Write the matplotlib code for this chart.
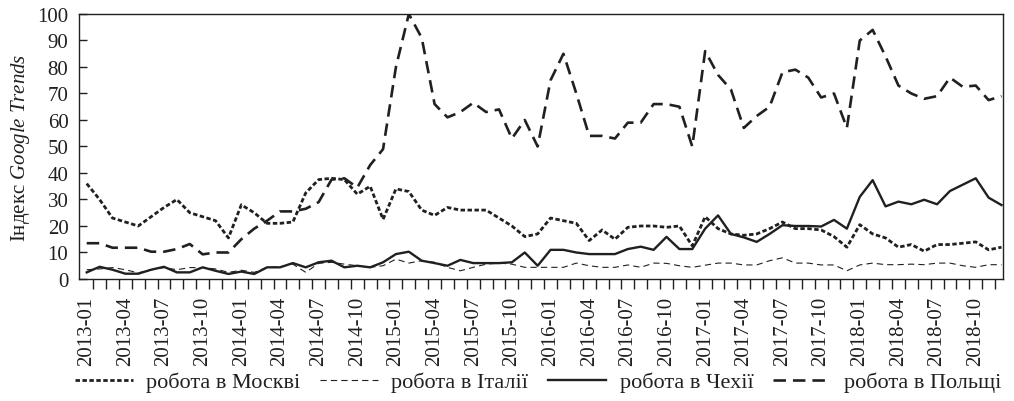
import matplotlib
matplotlib.use("Agg")
import matplotlib.pyplot as plt

# monthly categories 2013-01 .. 2018-12
years = [2013, 2014, 2015, 2016, 2017, 2018]
months = ["%d-%02d" % (y, m) for y in years for m in range(1, 13)]

moscow = [36, 30, 23, 21.5, 20, 23.5, 27, 30, 25, 23.5, 22, 15.5,
          28, 25, 21, 21, 21.5, 32.5, 37.5, 38, 37.5, 32, 35, 22.5,
          34, 33, 26, 24, 27, 26, 26, 26, 23, 20, 16, 17,
          23, 22, 21, 14.5, 18.5, 15, 19.5, 20, 20, 19.5, 20, 12.5,
          23.5, 19, 17, 16.5, 17, 19, 21.5, 19, 19, 18.5, 16, 12,
          20.5, 17, 15.5, 12, 13, 10.5, 13, 13, 13.5, 14, 11, 12]

italy = [3.5, 3.8, 4.3, 3.5, 2.3, 3.5, 4.3, 3.5, 4.3, 4.3, 3.8, 2.5,
         3.3, 2.5, 4.4, 4.6, 5.6, 2.5, 5.9, 6.3, 5.6, 5, 4.4, 5,
         7.5, 6, 6.9, 6.3, 4.4, 3.1, 4.4, 5.6, 6, 5.6, 4.4, 4.4,
         4.4, 4.4, 6, 5, 4.4, 4.4, 5.3, 4.4, 6, 5.9, 5, 4.4,
         5.2, 6, 6, 5.3, 5.3, 6.9, 8, 6, 6, 5.3, 5.3, 3.1,
         5.3, 6, 5.4, 5.4, 5.6, 5.4, 6, 6, 5, 4.4, 5.4, 5.4]

czech = [2.5, 4.6, 3.5, 2, 2, 3.5, 4.6, 2.5, 2.5, 4.4, 3.1, 1.9,
         2.8, 1.9, 4.4, 4.4, 6, 4.4, 6.3, 6.9, 4.4, 5, 4.4, 6.3,
         9.4, 10.3, 6.9, 6, 5, 7.2, 6, 6, 6, 6.3, 10, 5,
         11, 11, 10, 9.4, 9.4, 9.4, 11.3, 12.2, 11, 15.9, 11.3, 11.3,
         19, 24, 17, 15.7, 14, 17, 20.3, 20, 20, 19.8, 22.3, 19,
         31, 37.3, 27.4, 29.2, 28.2, 29.9, 28.2, 33.2, 35.6, 38, 30.7, 27.9]

poland = [13.5, 13.5, 11.8, 11.8, 11.8, 10.3, 10.3, 11.3, 13.2, 9.3, 10, 10,
          15, 19, 22, 25.5, 25.5, 26.5, 29, 37.5, 38, 34.5, 43, 49,
          80, 100, 91, 66, 61, 63, 66.5, 63, 64, 53, 60, 50,
          75, 85, 70, 54, 54, 53, 59, 59, 66, 66, 65, 50,
          86, 77, 71.5, 57, 61.5, 65, 78, 79, 76, 68.5, 70, 57,
          90, 94, 84, 73, 70, 68, 69, 76, 72.5, 73, 67.5, 69]

names = ["робота в Москві", "робота в Італії", "робота в Чехії", "робота в Польщі"]

plt.rcParams['font.family'] = ['Liberation Serif', 'DejaVu Serif']
plt.rcParams['mathtext.fontset'] = 'custom'
plt.rcParams['mathtext.rm'] = 'Liberation Serif'
plt.rcParams['mathtext.it'] = 'Liberation Serif:italic'
plt.rcParams['lines.scale_dashes'] = False

ink = '#231f20'

fig = plt.figure(figsize=(10.14, 4.02), dpi=100)
ax = fig.add_axes([0.0784, 0.3035, 0.9108, 0.6592])

x = list(range(len(months)))
ax.plot(x, moscow, color=ink, lw=2.0, dashes=(3.2, 1.8), label=names[0])
ax.plot(x, italy, color=ink, lw=0.8, dashes=(4.5, 3), label=names[1])
ax.plot(x, czech, color=ink, lw=1.7, label=names[2])
ax.plot(x, poland, color=ink, lw=1.9, dashes=(9, 5), label=names[3])

ax.set_xlim(-0.56, 71.12)
ax.set_ylim(0, 100)
ax.set_yticks(range(0, 101, 10))
ax.tick_params(axis='y', direction='in', length=6, width=1, pad=8,
               labelsize=15, colors=ink)

ax.set_xticks(x[::3])
ax.set_xticklabels(months[::3], rotation=90)
ax.set_xticks([i + 0.5 for i in range(len(months) - 1)], minor=True)
ax.tick_params(axis='x', which='major', length=0, pad=12, labelsize=15,
               colors=ink)
ax.tick_params(axis='x', which='minor', direction='out', length=7, width=1,
               color=ink)

for s in ax.spines.values():
    s.set_color(ink)
    s.set_linewidth(1.0)

ax.set_ylabel(r"Індекс $\mathit{Google\ Trends}$", fontsize=15, color=ink,
              labelpad=4)

fig.legend(loc='center', bbox_to_anchor=(0.531, 0.047), ncol=4, frameon=False,
           fontsize=16, handlelength=2.6, columnspacing=0.9, handletextpad=0.6,
           labelcolor=ink)

fig.savefig("out.png", dpi=100)
